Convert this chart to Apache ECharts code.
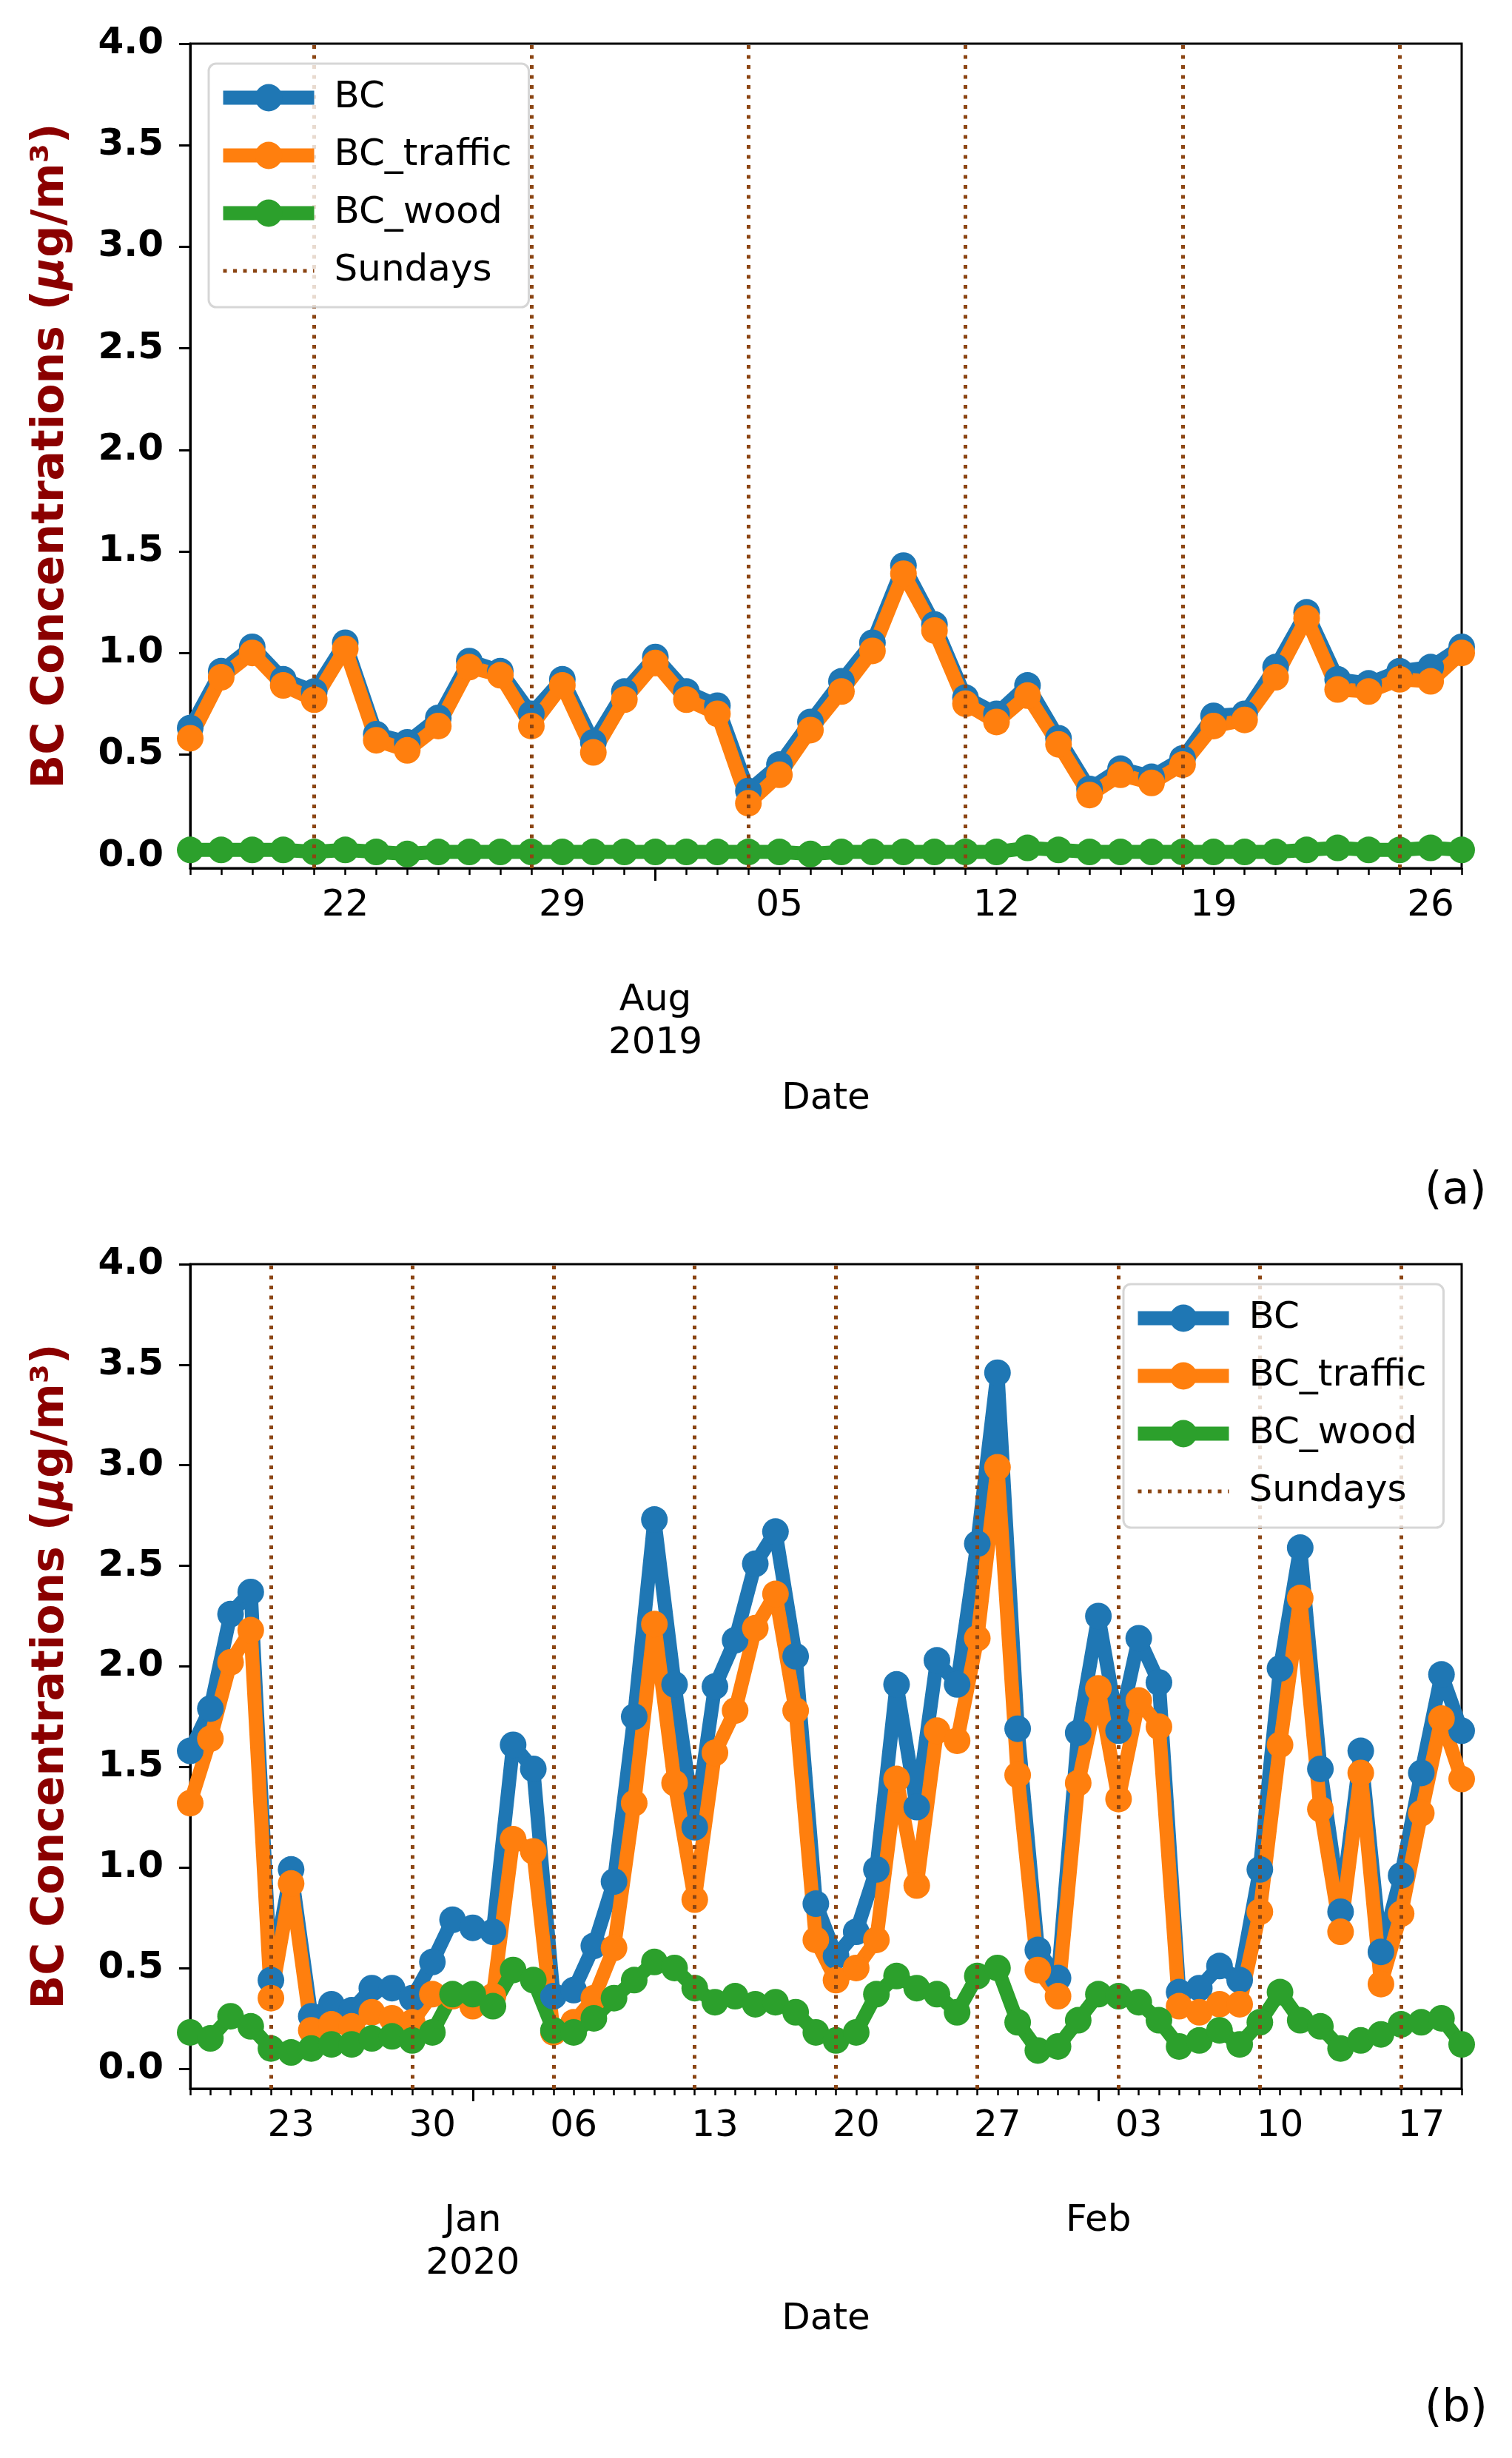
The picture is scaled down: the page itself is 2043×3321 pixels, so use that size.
<!DOCTYPE html>
<html><head><meta charset="utf-8">
<script src="https://cdn.jsdelivr.net/npm/echarts@6.0.0/dist/echarts.min.js"></script>
<style>html,body{margin:0;padding:0;background:#fff}#c{width:2043px;height:3321px}</style>
</head><body><div id="c"></div>
<script>
// ---------- Panel (a): 2019-07-17 .. 2019-08-27 (daily) ----------
const bcA = [0.63,0.91,1.03,0.87,0.81,1.05,0.60,0.56,0.68,0.96,0.91,0.70,0.87,0.56,0.81,0.98,0.81,0.74,0.32,0.45,0.66,0.86,1.05,1.43,1.14,0.78,0.70,0.84,0.58,0.33,0.43,0.39,0.48,0.69,0.70,0.93,1.20,0.87,0.85,0.91,0.93,1.03];
const trafficA = [0.58,0.88,1.00,0.84,0.77,1.02,0.57,0.52,0.64,0.93,0.89,0.64,0.84,0.51,0.77,0.95,0.77,0.70,0.26,0.40,0.62,0.81,1.01,1.39,1.11,0.75,0.66,0.79,0.55,0.30,0.40,0.36,0.45,0.64,0.67,0.88,1.17,0.82,0.81,0.87,0.86,1.00];
const woodA = [0.03,0.03,0.03,0.03,0.02,0.03,0.02,0.01,0.02,0.02,0.02,0.02,0.02,0.02,0.02,0.02,0.02,0.02,0.02,0.02,0.01,0.02,0.02,0.02,0.02,0.02,0.02,0.04,0.03,0.02,0.02,0.02,0.02,0.02,0.02,0.02,0.03,0.04,0.03,0.03,0.04,0.03];
const sundaysA = [4,11,18,25,32,39];
const weekTicksA = [5,12,19,26,33,40];
const weekLabelsA = ['22','29','05','12','19','26'];
const monthTicksA = [15];
const monthLabelsA = ['Aug\n2019'];

// ---------- Panel (b): 2019-12-18 .. 2020-02-19 (daily) ----------
const bcB = [1.58,1.79,2.26,2.37,0.44,0.99,0.26,0.32,0.29,0.40,0.40,0.35,0.53,0.74,0.70,0.68,1.61,1.49,0.36,0.39,0.61,0.93,1.75,2.73,1.91,1.20,1.90,2.13,2.51,2.67,2.05,0.82,0.56,0.68,0.99,1.91,1.30,2.03,1.91,2.61,3.46,1.69,0.59,0.45,1.67,2.25,1.68,2.14,1.92,0.38,0.40,0.51,0.44,0.99,1.99,2.59,1.49,0.78,1.58,0.58,0.96,1.47,1.96,1.68];
const trafficB = [1.32,1.64,2.02,2.18,0.35,0.92,0.19,0.22,0.21,0.28,0.25,0.23,0.37,0.36,0.31,0.36,1.14,1.08,0.18,0.23,0.35,0.60,1.32,2.21,1.42,0.84,1.57,1.78,2.19,2.36,1.78,0.64,0.44,0.50,0.64,1.44,0.91,1.68,1.63,2.14,2.99,1.46,0.49,0.36,1.42,1.89,1.34,1.83,1.70,0.31,0.28,0.32,0.32,0.78,1.61,2.34,1.29,0.68,1.47,0.42,0.77,1.27,1.74,1.44];
const woodB = [0.18,0.15,0.26,0.21,0.10,0.08,0.10,0.12,0.12,0.15,0.16,0.14,0.18,0.37,0.37,0.31,0.49,0.44,0.19,0.18,0.25,0.35,0.44,0.53,0.50,0.40,0.33,0.36,0.32,0.33,0.28,0.18,0.14,0.18,0.37,0.46,0.40,0.37,0.28,0.46,0.50,0.23,0.09,0.11,0.24,0.37,0.36,0.33,0.24,0.11,0.14,0.19,0.12,0.23,0.38,0.24,0.21,0.10,0.14,0.17,0.22,0.23,0.25,0.12];
const sundaysB = [4,11,18,25,32,39,46,53,60];
const weekTicksB = [5,12,19,26,33,40,47,54,61];
const weekLabelsB = ['23','30','06','13','20','27','03','10','17'];
const monthTicksB = [14,45];
const monthLabelsB = ['Jan\n2020','Feb'];

const yTicks = [0,0.5,1,1.5,2,2.5,3,3.5,4];
const seriesNames = ['BC','BC_traffic','BC_wood'];
const colors = ['#1f77b4','#ff7f0e','#2ca02c'];
const FONT = 'DejaVu Sans';
const SUN = '#8b4513';
const SUN_DASH = [5, 8.5];

function panel(i, cfg) {
  const n = cfg.vals[0].length;
  const base = {type:'value', gridIndex:i, min:0, max:n-1, position:'bottom', splitLine:{show:false}};
  const xAxes = [
    Object.assign({}, base, {interval:1,
      axisLine:{show:true, onZero:false, lineStyle:{color:'#000', width:3}},
      axisTick:{show:true, length:9, lineStyle:{color:'#000', width:2.5}},
      axisLabel:{show:false}}),
    Object.assign({}, base, {
      axisLine:{show:false, onZero:false}, axisTick:{show:false},
      axisLabel:{show:true, customValues:cfg.weekTicks, formatter:v=>cfg.weekLabels[cfg.weekTicks.indexOf(v)],
        fontSize:50, fontFamily:FONT, color:'#000', margin:26}}),
    Object.assign({}, base, {
      axisLine:{show:false, onZero:false},
      axisTick:{show:true, customValues:cfg.monthTicks, length:17, lineStyle:{color:'#000', width:3}},
      axisLabel:{show:true, customValues:cfg.monthTicks, formatter:v=>cfg.monthLabels[cfg.monthTicks.indexOf(v)],
        fontSize:50, lineHeight:58, fontFamily:FONT, color:'#000', margin:150},
      name:'Date', nameLocation:'middle', nameGap:287,
      nameTextStyle:{fontSize:50, fontFamily:FONT, color:'#000'}})
  ];
  const yAxis = {type:'value', gridIndex:i, min:cfg.ymin, max:4, splitLine:{show:false},
    axisLine:{show:true, onZero:false, lineStyle:{color:'#000', width:3}},
    axisTick:{show:true, customValues:yTicks, length:15, lineStyle:{color:'#000', width:3}},
    axisLabel:{show:true, customValues:yTicks, formatter:v=>v.toFixed(1), fontSize:50, fontWeight:'bold', fontFamily:FONT, color:'#000', margin:36},
    name:'BC Concentrations ({it|μ}g/m³)', nameLocation:'middle', nameGap:158,
    nameTextStyle:{fontSize:60, fontWeight:'bold', fontFamily:FONT, color:'#8b0000',
      rich:{it:{fontSize:60, fontWeight:'bold', fontStyle:'italic', fontFamily:FONT, color:'#8b0000'}}}};
  const series = cfg.vals.map((vals, j) => ({
    type:'line', name:seriesNames[j], xAxisIndex:3*i, yAxisIndex:i,
    data: vals.map((v,k)=>[k, v]),
    symbol:'circle', symbolSize:36, showSymbol:true,
    lineStyle:{width:19, color:colors[j]}, itemStyle:{color:colors[j]},
    emphasis:{disabled:true}, animation:false
  }));
  series.push({type:'line', name:'Sundays', xAxisIndex:3*i, yAxisIndex:i, data:[], symbol:'none',
    lineStyle:{color:SUN, width:5, type:SUN_DASH}, itemStyle:{color:SUN}, animation:false,
    markLine:{silent:true, symbol:['none','none'], label:{show:false}, animation:false,
      lineStyle:{color:SUN, width:5, type:SUN_DASH}, emphasis:{disabled:true},
      data: cfg.sundays.map(d=>({xAxis:d}))}});
  const legend = {orient:'vertical', left:cfg.legendLeft, top:cfg.legendTop, z:20, selectedMode:false,
    padding:[21,23,24,10], itemGap:28, itemWidth:123, itemHeight:46,
    backgroundColor:'rgba(255,255,255,0.8)', borderColor:'rgba(204,204,204,0.8)', borderWidth:3, borderRadius:10,
    textStyle:{fontSize:50, fontFamily:FONT, color:'#000', lineHeight:42, padding:[0,0,0,22]},
    data: seriesNames.map(nm=>({name:nm, lineStyle:{width:19}})).concat([{name:'Sundays', lineStyle:{width:5}, itemStyle:{opacity:0}}])};
  const grid = {left:257, width:1718, top:cfg.top, height:1114, show:true, borderColor:'#000', borderWidth:3, backgroundColor:'transparent'};
  return {grid, xAxes, yAxis, series, legend};
}

const pA = panel(0, {vals:[bcA, trafficA, woodA], sundays:sundaysA, weekTicks:weekTicksA, weekLabels:weekLabelsA,
  monthTicks:monthTicksA, monthLabels:monthLabelsA, ymin:-0.06, top:59, legendLeft:282, legendTop:86});
const pB = panel(1, {vals:[bcB, trafficB, woodB], sundays:sundaysB, weekTicks:weekTicksB, weekLabels:weekLabelsB,
  monthTicks:monthTicksB, monthLabels:monthLabelsB, ymin:-0.10, top:1708, legendLeft:1518, legendTop:1735});

const chart = echarts.init(document.getElementById('c'), null, {renderer:'canvas'});
chart.setOption({
  backgroundColor:'#fff',
  animation:false,
  grid:[pA.grid, pB.grid],
  xAxis: pA.xAxes.concat(pB.xAxes),
  yAxis: [pA.yAxis, pB.yAxis],
  legend: [pA.legend, pB.legend],
  series: pA.series.concat(pB.series),
  graphic:[
    {type:'text', left:1925, top:1580, style:{text:'(a)', fontSize:60, fontFamily:FONT, fill:'#000'}},
    {type:'text', left:1925, top:3225, style:{text:'(b)', fontSize:60, fontFamily:FONT, fill:'#000'}}
  ]
});
</script></body></html>
